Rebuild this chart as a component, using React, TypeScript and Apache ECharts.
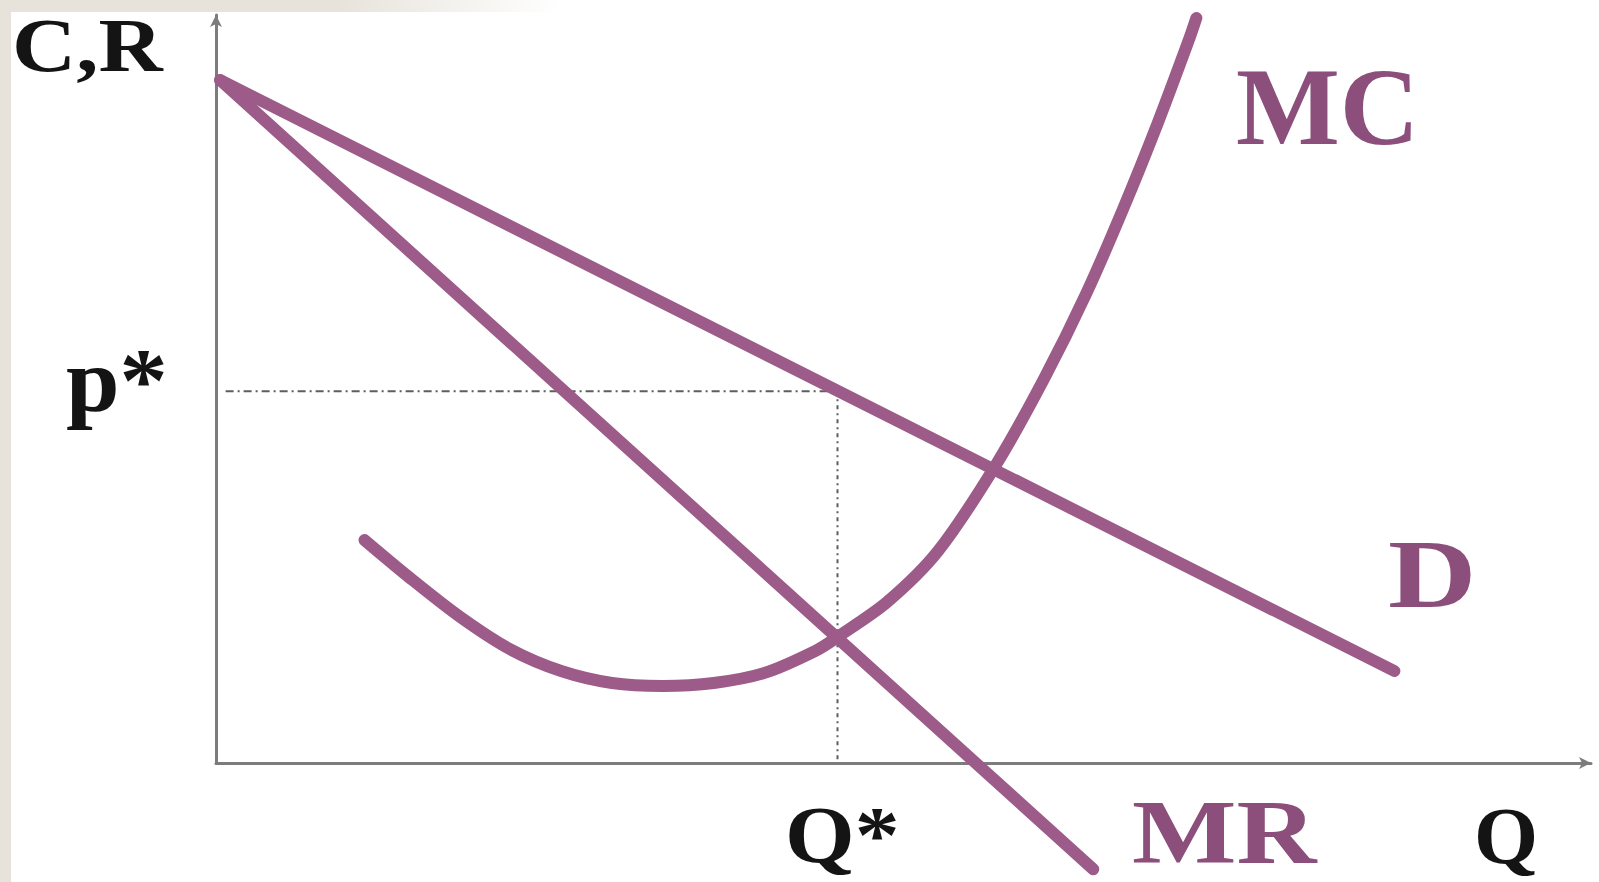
import React, { useEffect, useRef } from "react";
import * as echarts from "echarts";

// ---- data (in chart units: Q from 0..100, C/R from 0..100) ----
const demandPoints: number[][] = [
  [0.3, 91.3],
  [85.7, 12.3],
];
const mrPoints: number[][] = [
  [0.3, 91.3],
  [63.8, -14.2],
];
const mcPoints: number[][] = [
  [10.8, 29.8],
  [14.0, 24.9],
  [17.7, 19.6],
  [21.4, 15.2],
  [25.1, 12.3],
  [28.8, 10.7],
  [32.5, 10.3],
  [36.2, 10.7],
  [39.9, 12.05],
  [43.6, 15.0],
  [45.2, 16.85],
  [48.8, 21.5],
  [52.5, 28.3],
  [56.8, 40.1],
  [60.26, 51.5],
  [63.3, 62.8],
  [66.0, 74.2],
  [68.5, 85.6],
  [70.8, 96.9],
  [71.3, 99.6],
];
const qStar = 45.2;
const pStar = 49.7;
const pStarStartQ = 0.7;

const curveLabels = ["MC", "D", "MR"];
const axisLabels = ["C,R", "Q", "p*", "Q*"];

const CURVE = "#9c5b89";
const CURVE_TEXT = "#8c4f7b";
const TEXT = "#141414";
const AXIS = "#7c7c7c";
const GUIDE = "#5e5e5e";
const BEIGE = "#e7e3db";
const FONT = "'Liberation Serif', 'Times New Roman', serif";

export default function App() {
  const ref = useRef<HTMLDivElement>(null);

  useEffect(() => {
    if (!ref.current) return;
    const chart = echarts.init(ref.current, undefined, { renderer: "svg" });

    const lineSeries = (name: string, data: number[][], extra: any = {}) => ({
      name,
      type: "line",
      data,
      symbol: "none",
      showSymbol: false,
      clip: false,
      lineStyle: { color: CURVE, width: 12, cap: "round", join: "round" },
      z: 5,
      ...extra,
    });

    const txt = (
      text: string,
      x: number,
      y: number,
      size: number,
      color: string,
      scaleX = 1
    ) => ({
      type: "text",
      x,
      y,
      scaleX,
      z: 20,
      style: {
        text,
        x: 0,
        y: 0,
        fill: color,
        font: `bold ${size}px ${FONT}`,
        align: "left",
        verticalAlign: "middle",
      },
    });

    const axisCommon = {
      type: "value",
      min: 0,
      max: 100,
      axisLine: {
        show: true,
        symbol: ["none", "arrow"],
        symbolSize: [9, 12],
        lineStyle: { color: AXIS, width: 3 },
      },
      axisTick: { show: false },
      axisLabel: { show: false },
      splitLine: { show: false },
    };

    chart.setOption({
      animation: false,
      backgroundColor: BEIGE,
      grid: { left: 216, right: 8, top: 15, bottom: 119 },
      xAxis: axisCommon,
      yAxis: axisCommon,
      graphic: [
        {
          type: "rect",
          z: -10,
          shape: { x: 11, y: 0, width: 1599, height: 882 },
          style: { fill: "#ffffff" },
        },
        {
          type: "rect",
          z: -9,
          shape: { x: 0, y: 0, width: 560, height: 12 },
          style: {
            fill: new echarts.graphic.LinearGradient(0, 0, 1, 0, [
              { offset: 0, color: BEIGE },
              { offset: 0.6, color: BEIGE },
              { offset: 1, color: "#ffffff" },
            ]),
          },
        },
        txt(axisLabels[0], 12, 45, 76, TEXT, 1.17),
        txt(axisLabels[1], 1474, 836, 80, TEXT, 1.03),
        txt(axisLabels[2], 66, 381, 90, TEXT, 1.07),
        txt(axisLabels[3], 785, 835, 80, TEXT, 1.12),
        txt(curveLabels[0], 1236, 107, 110, CURVE_TEXT, 1.0),
        txt(curveLabels[1], 1388, 574, 98, CURVE_TEXT, 1.25),
        txt(curveLabels[2], 1132, 833, 90, CURVE_TEXT, 1.23),
      ],
      series: [
        {
          type: "line",
          data: [
            [pStarStartQ, pStar],
            [qStar, pStar],
          ],
          symbol: "none",
          lineStyle: { color: GUIDE, width: 2, type: [8, 4, 2, 4] },
          z: 3,
        },
        {
          type: "line",
          data: [
            [qStar, pStar],
            [qStar, 0],
          ],
          symbol: "none",
          lineStyle: { color: GUIDE, width: 2, type: [4, 4, 2, 4] },
          z: 3,
        },
        lineSeries("D", demandPoints),
        lineSeries("MR", mrPoints),
        lineSeries("MC", mcPoints, { smooth: 0.3 }),
      ],
    });

    return () => chart.dispose();
  }, []);

  return (
    <div
      ref={ref}
      style={{ position: "absolute", left: 0, top: 0, width: 1599, height: 882 }}
    />
  );
}
